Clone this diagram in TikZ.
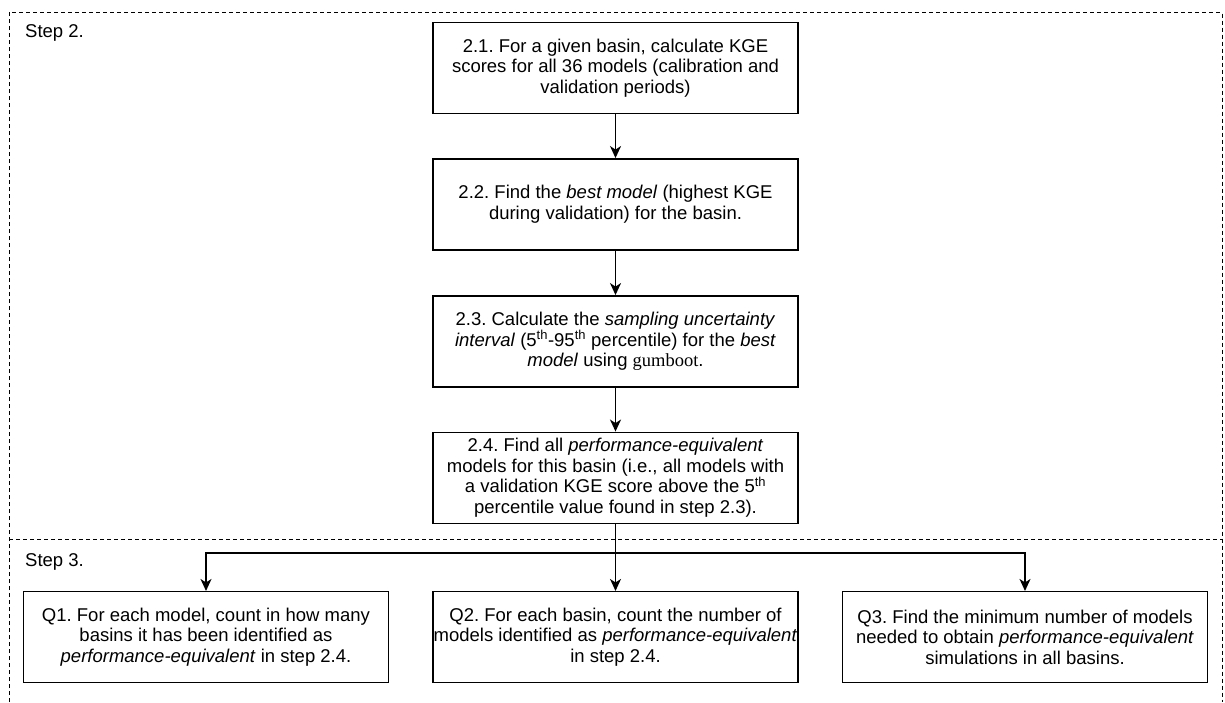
\documentclass[tikz,border=0pt]{standalone}
\usepackage{fontspec}
\setmainfont{Liberation Sans}
\newfontfamily\serifgb{Liberation Serif}
\usetikzlibrary{arrows.meta}
\frenchspacing
\begin{document}
\begin{tikzpicture}[x=1pt,y=-1pt,
  box/.style={draw=black, line width=1.5pt, minimum width=365pt, minimum height=91pt,
    align=center, inner sep=0pt, font=\fontsize{18.5}{20.7}\selectfont},
  arr/.style={line width=1.5pt, -{Stealth[length=12pt,width=11pt,inset=3.5pt]}},
  plainline/.style={line width=1.5pt},
  frame/.style={line width=1pt, dash pattern=on 4pt off 3pt},
  lbl/.style={anchor=west, inner sep=0pt, font=\fontsize{18.5}{21}\selectfont}]
\useasboundingbox (0,0) rectangle (1225,702);
\draw[frame] (9,702) -- (9,12.3) -- (1222,12.3) -- (1222,702);
\draw[frame] (9,539) -- (1222,539);

\node[lbl] (s2) at (25,33) {Step 2.};
\node[lbl] (s3) at (25,562) {Step 3.};

\node[box] (b21) at (615.5,68) {2.1. For a given basin, calculate KGE\\scores for all 36 models (calibration and\\validation periods)};
\node[box] (b22) at (615.5,204.3) {2.2. Find the \emph{best model} (highest KGE\\during validation) for the basin.};
\node[box] (b23) at (615.5,341.3) {2.3. Calculate the \emph{sampling uncertainty}\\\emph{interval} (5\textsuperscript{th}-95\textsuperscript{th} percentile) for the \emph{best}\\\emph{model} using {\serifgb gumboot}.};
\node[box] (b24) at (615.5,477.8) {2.4. Find all \emph{performance-equivalent}\\models for this basin (i.e., all models with\\a validation KGE score above the 5\textsuperscript{th}\\percentile value found in step 2.3).};

\node[box] (q1) at (206,637.2) {Q1. For each model, count in how many\\basins it has been identified as\\\emph{performance-equivalent} in step 2.4.};
\node[box] (q2) at (615.5,637.2) {Q2. For each basin, count the number of\\models identified as \emph{performance-equivalent}\\in step 2.4.};
\node[box] (q3) at (1025,637.2) {Q3. Find the minimum number of models\\needed to obtain \emph{performance-equivalent}\\simulations in all basins.};

\draw[arr] (b21.south) -- (b22.north);
\draw[arr] (b22.south) -- (b23.north);
\draw[arr] (b23.south) -- (b24.north);
\coordinate (br) at (615.5,553);
\draw[plainline] (b24.south) -- (br);
\draw[arr] (br) -- (q2.north);
\draw[arr] (br) -| (q1.north);
\draw[arr] (br) -| (q3.north);
\end{tikzpicture}
\end{document}
